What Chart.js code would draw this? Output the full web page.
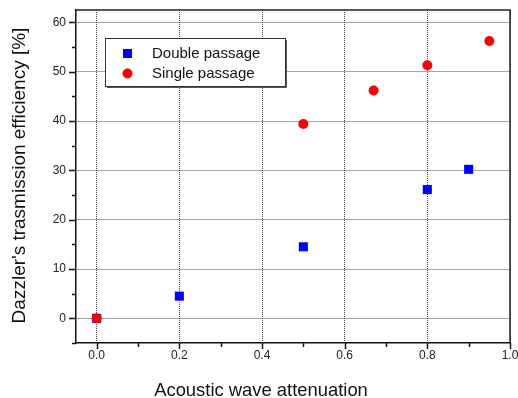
<!DOCTYPE html>
<html>
<head>
<meta charset="utf-8">
<script src="https://cdn.jsdelivr.net/npm/chart.js@4.4.1/dist/chart.umd.min.js"></script>
<style>
  html, body { margin: 0; padding: 0; background: #fff; }
  #wrap { width: 518px; height: 398px; }
</style>
</head>
<body>
<div id="wrap"><canvas id="chart" width="518" height="398"></canvas></div>
<script>
// ─── Data ───
const seriesNames = ['Double passage', 'Single passage'];
const doubleX = [0.0, 0.2, 0.5, 0.8, 0.9];
const doubleY = [0.0, 4.5, 14.5, 26.1, 30.2];
const singleX = [0.0, 0.5, 0.67, 0.8, 0.95];
const singleY = [0.0, 39.4, 46.2, 51.3, 56.2];
const xTitle = 'Acoustic wave attenuation';
const yTitle = "Dazzler's trasmission efficiency [%]";

const FONT = '"Liberation Sans", Arial, Helvetica, sans-serif';

function toPoints(xs, ys) {
  return xs.map((x, i) => ({ x, y: ys[i] }));
}

// major ticks get labels, minor ticks stay blank
const isMajorX = v => Math.abs(Math.round(v * 10)) % 2 === 0;
const isMajorY = v => Math.round(v) % 10 === 0;

// ─── Frame, tick marks, axis titles and legend box ───
const framePlugin = {
  id: 'frame',
  afterDraw(chart) {
    const ctx = chart.ctx;
    const a = chart.chartArea;
    const xs = chart.scales.x, ys = chart.scales.y;
    ctx.save();

    // top and right sides of the box
    ctx.strokeStyle = '#222';
    ctx.lineWidth = 1.5;
    ctx.beginPath();
    ctx.moveTo(a.left, a.top);
    ctx.lineTo(a.right, a.top);
    ctx.lineTo(a.right, a.bottom);
    ctx.stroke();

    // outward tick marks
    ctx.strokeStyle = '#111';
    ctx.lineWidth = 1.5;
    ctx.beginPath();
    xs.ticks.forEach(t => {
      const px = Math.round(xs.getPixelForValue(t.value)) + 0.5;
      const len = isMajorX(t.value) ? 6 : 4;
      ctx.moveTo(px, a.bottom);
      ctx.lineTo(px, a.bottom + len);
    });
    ys.ticks.forEach(t => {
      const py = Math.round(ys.getPixelForValue(t.value)) + 0.5;
      const len = isMajorY(t.value) ? 7 : 4;
      ctx.moveTo(a.left, py);
      ctx.lineTo(a.left - len, py);
    });
    ctx.stroke();

    // axis titles
    ctx.fillStyle = '#111';
    ctx.textAlign = 'center';
    ctx.textBaseline = 'alphabetic';
    ctx.font = '18.4px ' + FONT;
    ctx.fillText(xTitle, 261, 396);
    ctx.save();
    ctx.translate(25, 175.5);
    ctx.rotate(-Math.PI / 2);
    ctx.font = '19px ' + FONT;
    ctx.fillText(yTitle, 0, 0);
    ctx.restore();

    // legend
    const bx = 105, by = 38, bw = 180, bh = 48;
    ctx.fillStyle = '#fff';
    ctx.fillRect(bx, by, bw, bh);
    ctx.strokeStyle = '#333';
    ctx.lineWidth = 1;
    ctx.strokeRect(bx + 0.5, by + 0.5, bw, bh);
    ctx.strokeStyle = '#555';
    ctx.beginPath();
    ctx.moveTo(bx + bw + 1.5, by + 2);
    ctx.lineTo(bx + bw + 1.5, by + bh + 1.5);
    ctx.lineTo(bx + 2, by + bh + 1.5);
    ctx.stroke();

    ctx.font = '15px ' + FONT;
    ctx.textBaseline = 'middle';
    ctx.textAlign = 'left';
    chart.data.datasets.forEach((ds, i) => {
      const cy = by + 15 + i * 20;
      ctx.fillStyle = ds.backgroundColor;
      if (ds.pointStyle === 'rect') {
        ctx.fillRect(123, cy - 4, 9, 9);
      } else {
        ctx.beginPath();
        ctx.arc(127.5, cy + 0.5, 5, 0, Math.PI * 2);
        ctx.fill();
      }
      ctx.fillStyle = '#111';
      ctx.fillText(ds.label, 152, cy + 1);
    });
    ctx.restore();
  }
};

const gridColor = ctx => {
  if (!ctx.tick) return 'rgba(0,0,0,0)';
  const major = ctx.scale.axis === 'x' ? isMajorX(ctx.tick.value) : isMajorY(ctx.tick.value);
  return major ? '#4a4a4a' : 'rgba(0,0,0,0)';
};

new Chart(document.getElementById('chart'), {
  type: 'scatter',
  data: {
    datasets: [
      {
        label: seriesNames[0],
        data: toPoints(doubleX, doubleY),
        backgroundColor: '#0000ff',
        borderColor: '#0000ff',
        pointStyle: 'rect',
        pointRadius: 6.4,
        borderWidth: 0,
        order: 2
      },
      {
        label: seriesNames[1],
        data: toPoints(singleX, singleY),
        backgroundColor: '#ff0000',
        borderColor: '#ff0000',
        pointStyle: 'circle',
        pointRadius: 5,
        borderWidth: 0,
        order: 1
      }
    ]
  },
  options: {
    responsive: false,
    animation: false,
    layout: { padding: { left: 0, top: 10, right: 8, bottom: 0 } },
    plugins: { legend: { display: false }, tooltip: { enabled: false } },
    scales: {
      x: {
        type: 'linear',
        min: -0.05,
        max: 1.0,
        afterFit(scale) {
          scale.height = 55;
          scale.paddingLeft = 0;
          scale.paddingRight = 0;
        },
        ticks: {
          stepSize: 0.1,
          includeBounds: false,
          autoSkip: false,
          maxRotation: 0,
          padding: 5,
          color: '#222',
          font: { family: FONT, size: 12 },
          callback: v => isMajorX(v) ? v.toFixed(1) : ''
        },
        grid: { drawTicks: false, color: gridColor, lineWidth: 1 },
        border: { display: true, color: '#111', width: 1.5, dash: [1, 1] }
      },
      y: {
        type: 'linear',
        min: -5,
        max: 62.5,
        afterFit(scale) {
          scale.width = 76;
          scale.paddingTop = 0;
          scale.paddingBottom = 0;
        },
        ticks: {
          stepSize: 5,
          includeBounds: false,
          autoSkip: false,
          padding: 10,
          color: '#222',
          font: { family: FONT, size: 12 },
          callback: v => isMajorY(v) ? String(Math.round(v)) : ''
        },
        grid: { drawTicks: false, color: gridColor, lineWidth: 1 },
        border: { display: true, color: '#111', width: 1.5, dash: [1, 1] }
      }
    }
  },
  plugins: [framePlugin]
});
</script>
</body>
</html>
